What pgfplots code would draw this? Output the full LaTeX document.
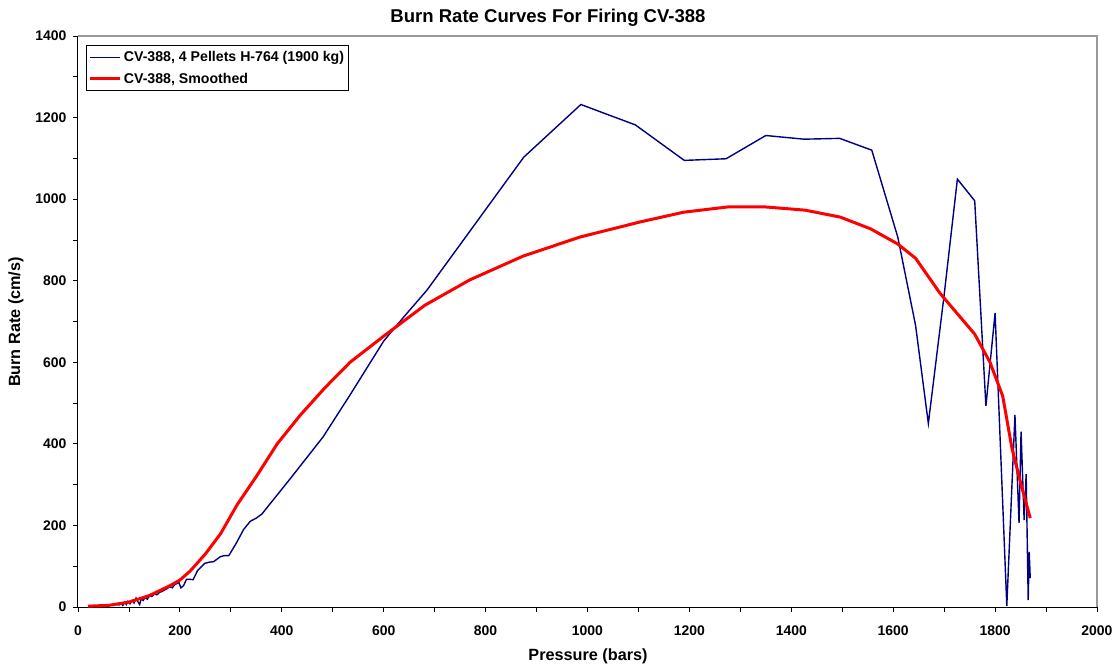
\documentclass[border=0pt]{standalone}
\usepackage{fontspec}
\setmainfont{Liberation Sans}
\usepackage{pgfplots}
\pgfplotsset{compat=1.18}
\definecolor{navyline}{RGB}{0,0,128}
\definecolor{frame}{RGB}{153,153,153}
\begin{document}
\begin{tikzpicture}
\begin{axis}[
  at={(0,0)}, anchor=south west,
  scale only axis, width=1019bp, height=571bp,
  xmin=0, xmax=2000, ymin=0, ymax=1400,
  xtick distance=200, ytick distance=200,
  minor x tick num=1, minor y tick num=1,
  tick align=outside, major tick length=5bp, minor tick length=5bp,
  tick style={black, line width=0.8bp},
  axis lines*=left,
  axis line style={black, line width=1bp},
  /pgf/number format/assume math mode=true,
  /pgf/number format/1000 sep={},
  ticklabel style={font=\bfseries\fontsize{14}{16}\selectfont},
  xticklabel style={yshift=-10bp},
  yticklabel style={xshift=-3bp},
  clip=false,
  legend style={at={(axis description cs:0,1)}, anchor=north west, xshift=8bp, yshift=-9bp,
    draw=black, line width=0.8bp, font=\bfseries\fontsize{14.2}{16}\selectfont,
    inner xsep=2.5bp, inner ysep=4bp, row sep=6bp, legend cell align=left},
  legend image code/.code={\draw[#1] (0bp,0bp) -- (30bp,0bp);},
]
\addplot[navyline, line width=1.4bp] coordinates {
(20,2)(25,1)(30,3)(35,2)(40,4)(45,2)(50,3)(55,4)(60,3)(65,5)(70,4)(75,7)(80,5)(85,8)(88,4)(92,12)(95,6)(98,14)(102,8)(106,16)(110,10)(114,22)(118,12)(121,6)(124,20)(128,16)(132,24)(136,19)(140,27)(145,26)(150,32)(155,30)(160,36)(165,38)(170,42)(175,45)(180,50)(185,47)(190,55)(195,58)(198,60)(202,47)(207,52)(213,68)(219,68)(226,67)(235,90)(249,107)(258,110)(266,111)(279,123)(287,126)(296,126)(310,155)(325,190)(338,210)(350,218)(361,228)(420,320)(481,417)(534,520)(600,652)(640,712)(685,777)(780,940)(875,1103)(987,1232)(1094,1182)(1190,1095)(1272,1099)(1350,1156)(1425,1147)(1495,1149)(1558,1120)(1609,907)(1644,690)(1669,450)(1700,765)(1726,1049)(1760,996)(1782,493)(1800,721)(1823,3)(1839,471)(1847,206)(1851,430)(1857,213)(1861,326)(1865,17)(1867,135)(1869,71)
};
\addlegendentry{CV-388, 4 Pellets H-764 (1900 kg)}
\addplot[red, line width=3bp] coordinates {
(20,2)(60,4)(100,12)(140,28)(180,52)(200,66)(220,88)(250,130)(280,180)(312,250)(350,320)(391,400)(436,470)(485,538)(534,600)(603,667)(681,740)(769,802)(873,860)(985,907)(1103,944)(1189,968)(1276,981)(1348,981)(1427,973)(1496,956)(1556,927)(1609,890)(1644,855)(1692,769)(1760,669)(1790,600)(1815,517)(1833,390)(1851,300)(1869,218)
};
\addlegendentry{CV-388, Smoothed}
\draw[frame, line width=1.5bp] (rel axis cs:0,1) -- (rel axis cs:1,1) -- (rel axis cs:1,0);
\end{axis}
\node[font=\bfseries\fontsize{18.6}{20}\selectfont] at (470bp,589bp) {Burn Rate Curves For Firing CV-388};
\node[font=\bfseries\fontsize{16.3}{18}\selectfont] at (510bp,-49bp) {Pressure (bars)};
\node[font=\bfseries\fontsize{16.3}{18}\selectfont, rotate=90] at (-62bp,285bp) {Burn Rate (cm/s)};
\pgfresetboundingbox
\path (-78bp,-61bp) rectangle (1039bp,607bp);
\end{tikzpicture}
\end{document}
